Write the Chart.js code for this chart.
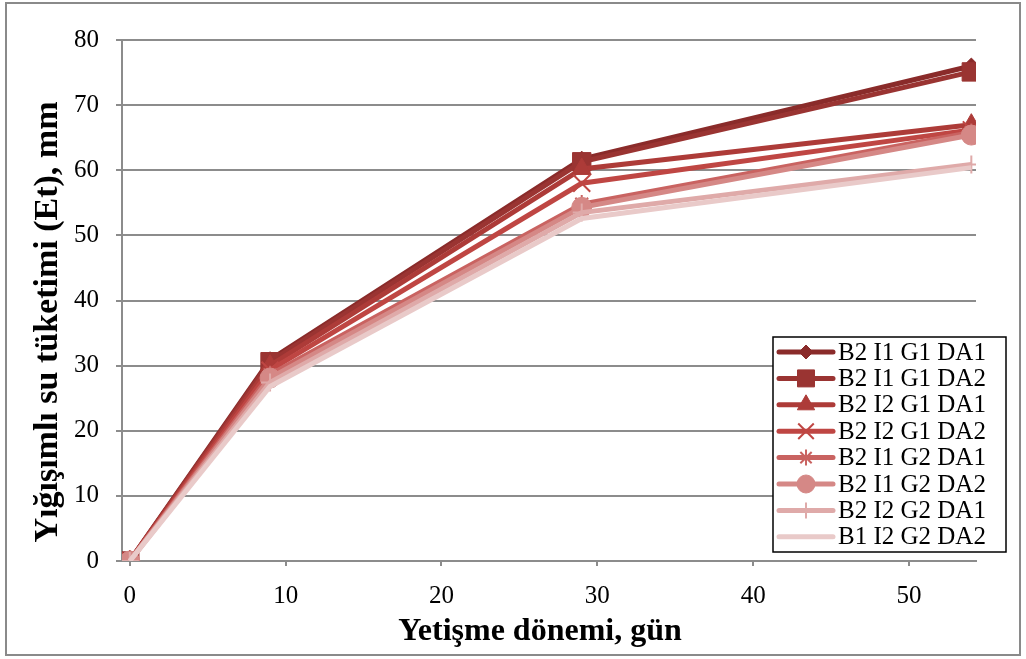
<!DOCTYPE html>
<html lang="tr">
<head>
<meta charset="utf-8">
<title>Yığışımlı su tüketimi</title>
<script src="https://cdn.jsdelivr.net/npm/chart.js@4.4.1/dist/chart.umd.min.js"></script>
<style>
    html, body { margin: 0; padding: 0; background: #fff; }
    #wrap { width: 1026px; height: 659px; }
</style>
</head>
<body>
<div id="wrap"><canvas id="chart" width="1026" height="659"></canvas></div>
<script>
// ===== DATA =====
const days = [0, 9, 29, 54];
const xTicks = [0, 10, 20, 30, 40, 50];
const seriesNames = [
    'B2 I1 G1 DA1', 'B2 I1 G1 DA2', 'B2 I2 G1 DA1', 'B2 I2 G1 DA2',
    'B2 I1 G2 DA1', 'B2 I1 G2 DA2', 'B2 I2 G2 DA1', 'B1 I2 G2 DA2',
];
const b2i1g1da1 = [0, 30.9, 61.7, 76.0];
const b2i1g1da2 = [0, 30.6, 61.3, 75.1];
const b2i2g1da1 = [0, 30.0, 60.2, 67.0];
const b2i2g1da2 = [0, 29.3, 58.0, 66.2];
const b2i1g2da1 = [0, 28.6, 54.8, 65.8];
const b2i1g2da2 = [0, 28.1, 54.3, 65.4];
const b2i2g2da1 = [0, 27.4, 53.5, 60.9];
const b1i2g2da2 = [0, 26.8, 52.6, 60.4];
const seriesValues = [b2i1g1da1, b2i1g1da2, b2i2g1da1, b2i2g1da2, b2i1g2da1, b2i1g2da2, b2i2g2da1, b1i2g2da2];
const xTitle = 'Yetişme dönemi, gün';
const yTitle = 'Yığışımlı su tüketimi (Et), mm';

// ===== STYLE =====
const colors = ['#8a2b2a', '#9a3432', '#ad3b38', '#bf4643', '#c96361', '#d58886', '#dfaaa9', '#e9cac9'];
const markers = [
    { style: 'rectRot', radius: 8, width: 1 },
    { style: 'rect', radius: 13, width: 1 },
    { style: 'triangle', radius: 11, width: 1 },
    { style: 'crossRot', radius: 12, width: 2 },
    { style: 'star', radius: 9, width: 2 },
    { style: 'circle', radius: 10, width: 1 },
    { style: 'cross', radius: 9, width: 2 },
    { style: false, radius: 0, width: 0 },
];
const serif = '"Liberation Serif", "Times New Roman", serif';
const gridGray = '#8c8c8c';

const datasets = seriesNames.map((name, i) => ({
    label: name,
    data: days.map((d, j) => ({ x: d, y: seriesValues[i][j] })),
    borderColor: colors[i],
    backgroundColor: colors[i],
    borderWidth: 5,
    pointStyle: markers[i].style,
    pointRadius: markers[i].radius,
    pointBorderWidth: markers[i].width,
    pointBackgroundColor: colors[i],
    pointBorderColor: colors[i],
    showLine: true,
    tension: 0,
    // later series sit on top
    order: seriesNames.length - i,
}));

// white page with grey frame, plus both axis titles
const frame = {
    id: 'frame',
    beforeDraw(chart) {
        const { ctx, width, height } = chart;
        ctx.save();
        ctx.fillStyle = '#fff';
        ctx.fillRect(0, 0, width, height);
        ctx.strokeStyle = '#8a8a8a';
        ctx.lineWidth = 2;
        ctx.strokeRect(6, 3, width - 12, height - 7);
        ctx.restore();
    },
    afterDraw(chart) {
        const { ctx } = chart;
        ctx.save();
        ctx.fillStyle = '#000';
        ctx.textAlign = 'center';
        ctx.textBaseline = 'middle';
        ctx.font = 'bold 32px ' + serif;
        ctx.fillText(xTitle, 540, 632);
        ctx.translate(48, 322);
        ctx.rotate(-Math.PI / 2);
        ctx.font = 'bold 34px ' + serif;
        ctx.fillText(yTitle, 0, 0);
        ctx.restore();
    },
};

// boxed legend inside the plot, line sample + marker per row
const boxLegend = {
    id: 'boxLegend',
    afterDraw(chart) {
        const { ctx, chartArea } = chart;
        const left = chartArea.right - 203;
        const top = 337;
        const w = 233;
        const h = 215;
        const rowH = 26.4;
        ctx.save();
        ctx.fillStyle = '#fff';
        ctx.fillRect(left, top, w, h);
        ctx.strokeStyle = '#000';
        ctx.lineWidth = 1.5;
        ctx.strokeRect(left, top, w, h);
        ctx.font = '25px ' + serif;
        ctx.textBaseline = 'middle';
        seriesNames.forEach((name, i) => {
            const y = top + 15 + i * rowH;
            ctx.strokeStyle = colors[i];
            ctx.lineWidth = 5;
            ctx.lineCap = 'round';
            ctx.beginPath();
            ctx.moveTo(left + 6, y);
            ctx.lineTo(left + 60, y);
            ctx.stroke();
            if (markers[i].style) {
                ctx.fillStyle = colors[i];
                ctx.strokeStyle = colors[i];
                ctx.lineWidth = markers[i].width;
                ctx.lineCap = 'butt';
                Chart.helpers.drawPoint(ctx, {
                    pointStyle: markers[i].style,
                    radius: markers[i].radius - 1,
                    borderWidth: markers[i].width,
                    rotation: 0,
                }, left + 33, y);
            }
            ctx.fillStyle = '#000';
            ctx.fillText(name, left + 65, y + 1);
        });
        ctx.restore();
    },
};

new Chart(document.getElementById('chart'), {
    type: 'scatter',
    data: { datasets },
    plugins: [frame, boxLegend],
    options: {
        responsive: false,
        animation: false,
        layout: { padding: { top: 40, right: 50, left: 0, bottom: 0 } },
        plugins: {
            legend: { display: false },
            tooltip: { enabled: false },
        },
        scales: {
            x: {
                type: 'linear',
                min: -0.5,
                max: 54.3,
                afterBuildTicks: (s) => { s.ticks = xTicks.map((v) => ({ value: v })); },
                afterFit: (s) => { s.height = 98; },
                grid: { drawOnChartArea: false, drawTicks: true, tickLength: 5, color: gridGray, lineWidth: 2 },
                border: { color: gridGray, width: 2 },
                ticks: { color: '#000', padding: 15, font: { family: serif, size: 25 } },
            },
            y: {
                min: 0,
                max: 80,
                afterFit: (s) => { s.width = 122; },
                grid: { color: gridGray, lineWidth: 2, tickLength: 6 },
                border: { color: gridGray, width: 2 },
                ticks: { stepSize: 10, color: '#000', padding: 17, font: { family: serif, size: 25 } },
            },
        },
    },
});
</script>
</body>
</html>
